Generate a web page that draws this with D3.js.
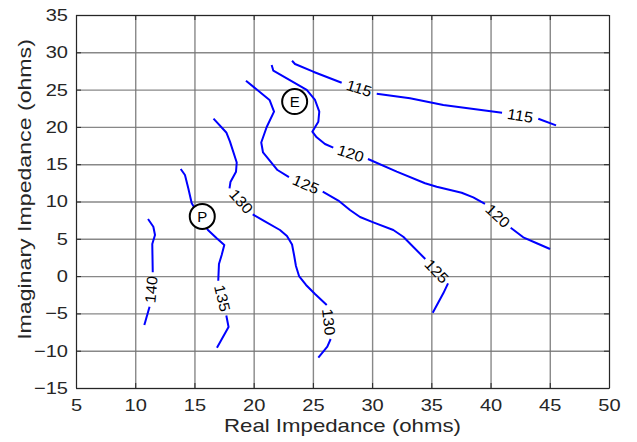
<!DOCTYPE html>
<html>
<head>
<meta charset="utf-8">
<script src="https://cdn.jsdelivr.net/npm/d3@7"></script>
<style>
  body { margin: 0; background: #fff; }
  text { font-family: "Liberation Sans", Arial, sans-serif; fill: #262626; }
</style>
</head>
<body>
<div id="chart"></div>
<script>
// axis ticks
const xTicks = [5, 10, 15, 20, 25, 30, 35, 40, 45, 50];
const yTicks = [-15, -10, -5, 0, 5, 10, 15, 20, 25, 30, 35];

// contour levels, each one split into the visible pieces between its labels
// points are [real, imaginary] in ohms
const levels = [115, 120, 125, 130, 135, 140];

const c115 = [
  [[23.24, 28.87], [23.49, 28.43], [25.03, 27.40], [27.43, 25.92]],
  [[30.39, 24.45], [33.20, 23.83], [36.01, 22.94], [40.97, 21.90]],
  [[44.03, 21.10], [45.53, 20.21]]
];
const c120 = [
  [[21.52, 28.30], [21.66, 27.53], [24.48, 24.95], [25.18, 23.61], [25.54, 22.04],
   [25.46, 20.70], [24.95, 19.36], [25.32, 18.61], [26.02, 17.71], [26.72, 17.21]],
  [[29.65, 15.70], [32.08, 14.00], [34.47, 12.44], [35.45, 11.98], [37.56, 11.18],
   [38.54, 10.56], [39.53, 9.67]],
  [[41.70, 6.49], [42.76, 5.20], [43.90, 4.40], [45.02, 3.63]]
];
const c125 = [
  [[19.35, 26.19], [21.34, 23.61], [21.72, 22.04], [21.10, 19.99], [20.64, 17.91],
   [20.79, 16.57], [22.01, 14.22], [22.98, 13.28]],
  [[25.83, 11.31], [27.15, 10.13], [28.13, 8.86], [28.98, 7.92], [30.10, 7.21],
   [31.79, 6.18], [32.63, 5.28], [34.49, 2.29]],
  [[36.41, -0.97], [36.01, -2.31], [35.12, -4.91]]
];
const c130 = [
  [[16.61, 21.10], [17.69, 19.25], [18.00, 18.02], [18.57, 15.23], [18.51, 14.00],
   [18.04, 12.61], [17.96, 11.77]],
  [[19.92, 8.28], [20.87, 7.39], [22.22, 6.18], [22.81, 5.38], [23.24, 4.24],
   [23.41, 2.83], [23.57, 1.35], [23.83, 0.01], [24.42, -1.19], [25.18, -2.40], [26.17, -3.87]],
  [[26.50, -8.43], [26.22, -9.46], [25.46, -10.94]]
];
const c135 = [
  [[13.84, 14.36], [14.20, 13.55], [14.48, 11.77], [14.77, 9.76], [16.14, 6.18],
   [16.88, 5.07], [17.52, 4.17], [17.30, 2.83], [17.07, 1.62], [17.01, -0.62]],
  [[17.69, -5.28], [17.88, -6.82], [16.90, -9.60]]
];
const c140 = [
  [[11.08, 7.65], [11.53, 6.62], [11.67, 5.51], [11.44, 4.30], [11.48, 0.51]],
  [[11.21, -4.10], [10.77, -6.56]]
];
const contours = [c115, c120, c125, c130, c135, c140];

// marked operating points
const markNames = ["E", "P"];
const markX = [23.46, 15.66];
const markY = [23.4, 8.0];

const W = 637, H = 442;
const margin = { top: 15, right: 28, bottom: 54, left: 76 };
const width = W - margin.left - margin.right,
      height = H - margin.top - margin.bottom;

const svg = d3.select("#chart").append("svg")
  .attr("width", W)
  .attr("height", H);

const g = svg.append("g")
  .attr("transform", "translate(" + margin.left + "," + margin.top + ")");

const x = d3.scaleLinear().domain([5, 50]).range([0, width]);
const y = d3.scaleLinear().domain([-15, 35]).range([height, 0]);

// stretch text sideways, the reference font runs wide
function stretch(sel, k) {
  sel.each(function() {
    const len = this.getComputedTextLength();
    d3.select(this).attr("textLength", len * k).attr("lengthAdjust", "spacingAndGlyphs");
  });
}

// grid
g.append("g")
  .attr("class", "grid")
  .call(d3.axisBottom(x).tickValues(xTicks).tickSize(height).tickFormat(""))
  .call(s => s.select(".domain").remove());
g.append("g")
  .attr("class", "grid")
  .call(d3.axisLeft(y).tickValues(yTicks).tickSize(-width).tickFormat(""))
  .call(s => s.select(".domain").remove());
g.selectAll(".grid line")
  .attr("stroke", "#737373")
  .attr("stroke-width", 1.4)
  .attr("stroke-opacity", 0.85);

// contour lines
const line = d3.line().x(d => x(d[0])).y(d => y(d[1]));

contours.forEach((pieces, i) => {
  g.selectAll(null)
    .data(pieces)
    .enter().append("path")
    .attr("d", line)
    .attr("fill", "none")
    .attr("stroke", "#0000ff")
    .attr("stroke-width", 2)
    .attr("stroke-linejoin", "round");

  // level label in each gap between two pieces
  for (let k = 0; k < pieces.length - 1; k++) {
    const a = pieces[k][pieces[k].length - 1];
    const b = pieces[k + 1][0];
    const ax = x(a[0]), ay = y(a[1]), bx = x(b[0]), by = y(b[1]);
    let ang = Math.atan2(by - ay, bx - ax) * 180 / Math.PI;
    if (ang > 90) ang -= 180;
    if (ang < -90) ang += 180;
    g.append("text")
      .attr("transform", "translate(" + ((ax + bx) / 2) + "," + ((ay + by) / 2) + ") rotate(" + ang + ")")
      .attr("text-anchor", "middle")
      .attr("dy", "0.35em")
      .style("font-size", "15px")
      .style("fill", "#000")
      .text(levels[i])
      .call(stretch, 1.08);
  }
});

// circled markers
const marks = g.selectAll(".mark")
  .data(markNames)
  .enter().append("g")
  .attr("class", "mark")
  .attr("transform", (d, i) => "translate(" + x(markX[i]) + "," + y(markY[i]) + ")");

marks.append("circle")
  .attr("r", 12.5)
  .attr("fill", "#fff")
  .attr("stroke", "#000")
  .attr("stroke-width", 2);

marks.append("text")
  .attr("text-anchor", "middle")
  .attr("dy", "0.36em")
  .style("font-size", "15px")
  .style("fill", "#000")
  .text(d => d);

// box with inward ticks on all four sides
const tick = 5;
g.append("g")
  .attr("transform", "translate(0," + height + ")")
  .call(d3.axisBottom(x).tickValues(xTicks).tickSizeInner(-tick).tickSizeOuter(0).tickPadding(11))
  .attr("class", "xaxis");
g.append("g")
  .call(d3.axisTop(x).tickValues(xTicks).tickSizeInner(-tick).tickSizeOuter(0).tickFormat(""));
g.append("g")
  .call(d3.axisLeft(y).tickValues(yTicks).tickSizeInner(-tick).tickSizeOuter(0).tickPadding(8))
  .attr("class", "yaxis");
g.append("g")
  .attr("transform", "translate(" + width + ",0)")
  .call(d3.axisRight(y).tickValues(yTicks).tickSizeInner(-tick).tickSizeOuter(0).tickFormat(""));

g.selectAll(".domain").attr("stroke", "#262626");
g.selectAll(".tick line").filter(function() { return !this.closest(".grid"); })
  .attr("stroke", "#262626");

g.selectAll(".xaxis text, .yaxis text")
  .attr("font-family", null)
  .style("font-size", "17px")
  .style("fill", "#262626")
  .call(stretch, 1.18);

// axis titles
g.append("text")
  .attr("x", width / 2)
  .attr("y", height + 44)
  .attr("text-anchor", "middle")
  .style("font-size", "18.5px")
  .text("Real Impedance (ohms)")
  .call(stretch, 1.2);

g.append("text")
  .attr("transform", "translate(" + (-45.5) + "," + (height / 2 - 12) + ") rotate(-90)")
  .attr("text-anchor", "middle")
  .style("font-size", "18.5px")
  .text("Imaginary Impedance (ohms)")
  .call(stretch, 1.25);
</script>
</body>
</html>
